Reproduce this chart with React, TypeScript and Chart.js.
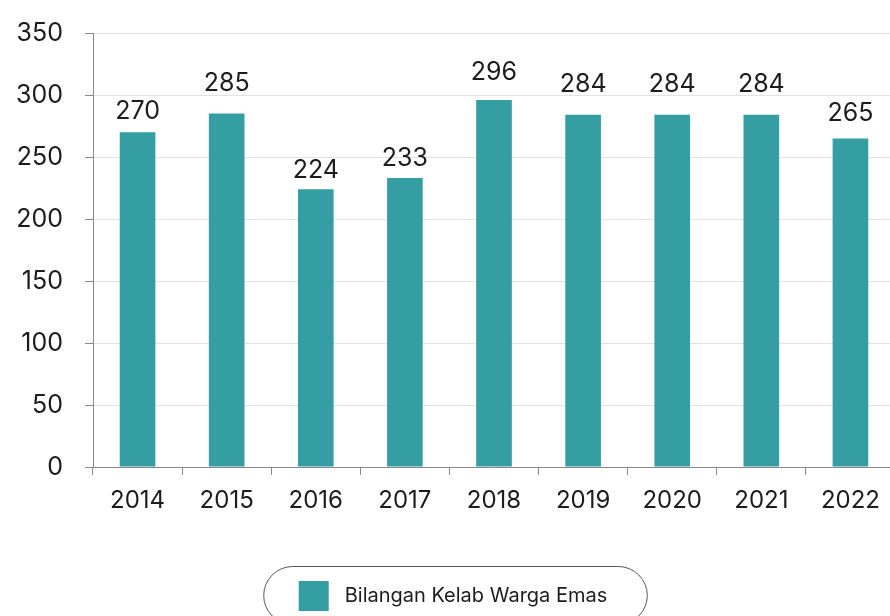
import React, { useEffect, useRef } from "react";
import { Chart, registerables } from "chart.js";

Chart.register(...registerables);

const years = ["2014", "2015", "2016", "2017", "2018", "2019", "2020", "2021", "2022"];
const clubCounts = [270, 285, 224, 233, 296, 284, 284, 284, 265];
const seriesLabel = "Bilangan Kelab Warga Emas";
const yMin = 0;
const yMax = 350;
const yStep = 50;

// style: gap (px) between each bar top and its value label, as in the source
const labelGaps = [13, 23, 11, 12, 20, 23, 23, 23, 17];

const BAR_COLOR = "#349ea2";
const FONT = "Inter, 'Open Sans', Arial, sans-serif";
const TEXT = "#1c1c1c";

const valueLabels = {
  id: "valueLabels",
  afterDatasetsDraw(chart: any) {
    const ctx = chart.ctx;
    const meta = chart.getDatasetMeta(0);
    ctx.save();
    ctx.font = `25px ${FONT}`;
    ctx.fillStyle = TEXT;
    ctx.textAlign = "center";
    ctx.textBaseline = "alphabetic";
    meta.data.forEach((bar: any, i: number) => {
      ctx.fillText(String(chart.data.datasets[0].data[i]), bar.x, bar.y - labelGaps[i]);
    });
    ctx.restore();
  },
};

const pillLegend = {
  id: "pillLegend",
  afterDraw(chart: any) {
    const ctx = chart.ctx;
    ctx.save();
    ctx.font = `20px ${FONT}`;
    const label = chart.data.datasets[0].label;
    const tw = ctx.measureText(label).width;
    const sw = 30;
    const gap = 16;
    const padL = 35;
    const padR = 40;
    const boxW = padL + sw + gap + tw + padR;
    const cx = 455.5;
    const x0 = cx - boxW / 2;
    const y0 = 566.5;
    const h = 58;
    const r = 29;
    ctx.beginPath();
    ctx.roundRect(x0, y0, boxW, h, r);
    ctx.strokeStyle = "#555";
    ctx.lineWidth = 1;
    ctx.stroke();
    const sx = x0 + padL;
    ctx.fillStyle = BAR_COLOR;
    ctx.fillRect(sx, 581, sw, sw);
    ctx.fillStyle = TEXT;
    ctx.textAlign = "left";
    ctx.textBaseline = "middle";
    ctx.fillText(label, sx + sw + gap, 596);
    ctx.restore();
  },
};

export default function App() {
  const ref = useRef<HTMLCanvasElement>(null);
  useEffect(() => {
    if (!ref.current) return;
    const chart = new Chart(ref.current, {
      type: "bar",
      data: {
        labels: years,
        datasets: [
          {
            label: seriesLabel,
            data: clubCounts,
            backgroundColor: BAR_COLOR,
            categoryPercentage: 1,
            barPercentage: 0.4,
          },
        ],
      },
      options: {
        responsive: false,
        animation: false,
        layout: { padding: { top: 33, right: 0, bottom: 0, left: 0 } },
        plugins: { legend: { display: false }, tooltip: { enabled: false } },
        scales: {
          x: {
            grid: {
              drawOnChartArea: false,
              drawTicks: true,
              tickLength: 8,
              color: "#888",
              offset: true,
            },
            border: { color: "#888" },
            ticks: { font: { family: FONT, size: 24 }, color: TEXT, padding: 11 },
            afterFit(scale: any) {
              scale.height = 149;
            },
          },
          y: {
            min: yMin,
            max: yMax,
            grid: { color: "#e2e2e2", tickLength: 8, tickColor: "#888" },
            border: { color: "#888" },
            ticks: { stepSize: yStep, font: { family: FONT, size: 25 }, color: TEXT, padding: 22 },
            afterFit(scale: any) {
              scale.width = 93;
              scale.paddingTop = 0;
              scale.paddingBottom = 0;
            },
          },
        },
      },
      plugins: [valueLabels, pillLegend],
    });
    return () => chart.destroy();
  }, []);
  return (
    <div style={{ position: "absolute", left: 0, top: 0, width: 890, height: 616, overflow: "hidden", background: "#fff" }}>
      <canvas ref={ref} width={895} height={616} />
    </div>
  );
}
